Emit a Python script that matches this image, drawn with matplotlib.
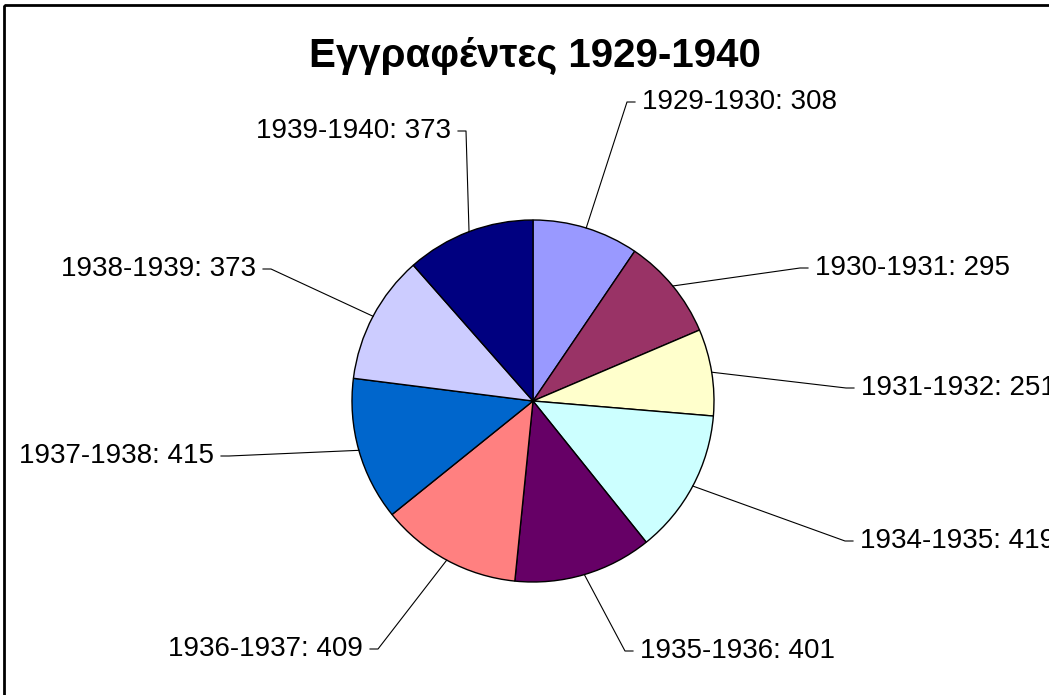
import numpy as np
import matplotlib.pyplot as plt
from matplotlib.patches import Rectangle

plt.rcParams['font.family'] = ['Liberation Sans', 'DejaVu Sans']

title = "Εγγραφέντες 1929-1940"
years = ["1929-1930", "1930-1931", "1931-1932", "1934-1935", "1935-1936",
         "1936-1937", "1937-1938", "1938-1939", "1939-1940"]
counts = [308, 295, 251, 419, 401, 409, 415, 373, 373]
colors = ["#9999FF", "#993366", "#FFFFCC", "#CCFFFF", "#660066",
          "#FF8080", "#0066CC", "#CCCCFF", "#000080"]

# label layout in pixels (text anchor x, y)
label_pos = [(642, 102), (815, 268), (861, 388), (860, 541), (640, 651),
             (363, 649), (214, 456), (256, 269), (451, 131)]

W, H = 1049, 695
cx, cy, r = 533, 401, 181

fig = plt.figure(figsize=(W / 100, H / 100), dpi=100)
ax = fig.add_axes([0, 0, 1, 1])
ax.set_xlim(0, W)
ax.set_ylim(H, 0)
ax.set_aspect('equal')
ax.axis('off')

# outer chart frame (right and bottom edges run off the image)
ax.add_patch(Rectangle((3.5, 5), W + 20, H + 20, fill=False, edgecolor='black', linewidth=2))

wedges, _ = ax.pie(counts, colors=colors, startangle=270, counterclock=True,
                   center=(cx, cy), radius=r,
                   wedgeprops=dict(edgecolor='black', linewidth=1))
ax.set_xlim(0, W)
ax.set_ylim(H, 0)

for w, name, val, (tx, ty) in zip(wedges, years, counts, label_pos):
    mid = np.deg2rad((w.theta1 + w.theta2) / 2)
    ax_x = cx + r * np.cos(mid)
    ax_y = cy + r * np.sin(mid)
    if tx > cx:
        ex, hx = tx - 15, tx - 7
        ha = 'left'
    else:
        ex, hx = tx + 15, tx + 7
        ha = 'right'
    ax.plot([ax_x, ex, hx], [ax_y, ty, ty], color='black', linewidth=0.8)
    ax.text(tx, ty, f"{name}: {val}", ha=ha, va='center', fontsize=20)

ax.text(535, 56, title, ha='center', va='center', fontsize=29, fontweight='bold')

fig.savefig('out.png', dpi=100)
